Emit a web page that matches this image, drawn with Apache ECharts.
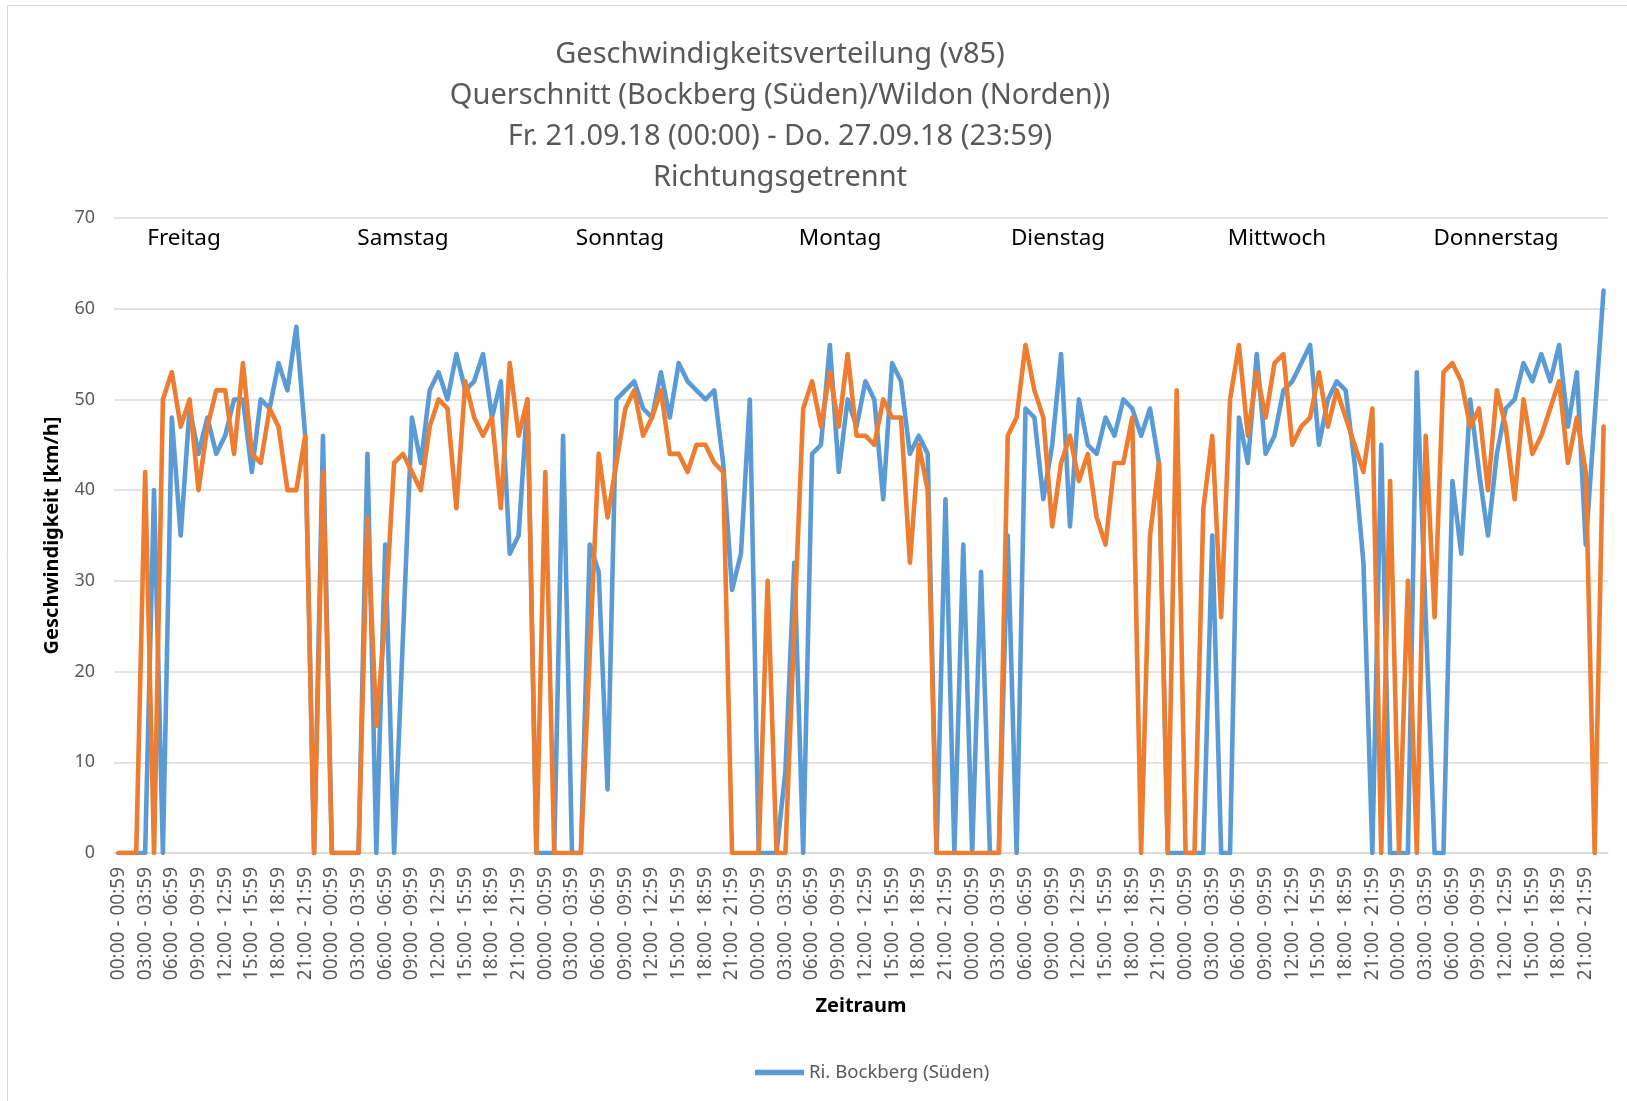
<!DOCTYPE html>
<html>
<head>
<meta charset="utf-8">
<script src="https://cdn.jsdelivr.net/npm/echarts@6/dist/echarts.min.js"></script>
<style>
html,body{margin:0;padding:0;background:#ffffff;}
#chart{width:1627px;height:1101px;}
</style>
</head>
<body>
<div id="chart"></div>
<script>
// ---- data ----
const titleLines = [
  'Geschwindigkeitsverteilung (v85)',
  'Querschnitt (Bockberg (Süden)/Wildon (Norden))',
  'Fr. 21.09.18 (00:00) - Do. 27.09.18 (23:59)',
  'Richtungsgetrennt'
];
const dayNames = ['Freitag', 'Samstag', 'Sonntag', 'Montag', 'Dienstag', 'Mittwoch', 'Donnerstag'];
const hourLabels = [
  '00:00 - 00:59','01:00 - 01:59','02:00 - 02:59','03:00 - 03:59','04:00 - 04:59','05:00 - 05:59',
  '06:00 - 06:59','07:00 - 07:59','08:00 - 08:59','09:00 - 09:59','10:00 - 10:59','11:00 - 11:59',
  '12:00 - 12:59','13:00 - 13:59','14:00 - 14:59','15:00 - 15:59','16:00 - 16:59','17:00 - 17:59',
  '18:00 - 18:59','19:00 - 19:59','20:00 - 20:59','21:00 - 21:59','22:00 - 22:59','23:00 - 23:59'
];
const seriesNames = ['Ri. Bockberg (Süden)', 'Ri. Wildon (Norden)'];
// Ri. Bockberg (Süden), hourly v85, Fri..Thu
const bockberg = [
  0,0,0,0,40,0,48,35,49,44,48,44,46,50,50,42,50,49,54,51,58,46,0,46,
  0,0,0,0,44,0,34,0,24,48,43,51,53,50,55,51,52,55,48,52,33,35,50,0,
  0,0,46,0,0,34,31,7,50,51,52,49,48,53,48,54,52,51,50,51,43,29,33,50,
  0,0,0,9,32,0,44,45,56,42,50,47,52,50,39,54,52,44,46,44,0,39,0,34,
  0,31,0,0,35,0,49,48,39,45,55,36,50,45,44,48,46,50,49,46,49,43,0,0,
  0,0,0,35,0,0,48,43,55,44,46,51,52,54,56,45,50,52,51,43,32,0,45,0,
  0,0,53,26,0,0,41,33,50,42,35,44,49,50,54,52,55,52,56,47,53,34,48,62
];
// Ri. Wildon (Norden), hourly v85, Fri..Thu
const wildon = [
  0,0,0,42,0,50,53,47,50,40,47,51,51,44,54,44,43,49,47,40,40,46,0,42,
  0,0,0,0,37,14,26,43,44,42,40,47,50,49,38,52,48,46,48,38,54,46,50,0,
  42,0,0,0,0,22,44,37,43,49,51,46,48,51,44,44,42,45,45,43,42,0,0,0,
  0,30,0,0,25,49,52,47,53,47,55,46,46,45,50,48,48,32,45,40,0,0,0,0,
  0,0,0,0,46,48,56,51,48,36,43,46,41,44,37,34,43,43,48,0,35,43,0,51,
  0,0,38,46,26,50,56,46,53,48,54,55,45,47,48,53,47,51,48,45,42,49,0,41,
  0,30,0,46,26,53,54,52,47,49,40,51,47,39,50,44,46,49,52,43,48,42,0,47
];
const yTicks = { min: 0, max: 70, step: 10 };

// ---- build ----
const categories = [];
dayNames.forEach(function () { hourLabels.forEach(function (h) { categories.push(h); }); });

const FONT = '"Noto Sans", "Liberation Sans", sans-serif';
const GRAY = '#595959';

const titleY = [55, 96, 137, 178];
const dayX = [184, 403, 620, 840, 1058, 1277, 1496];

const graphics = [];
graphics.push({
  type: 'rect', silent: true, z: -1,
  shape: { x: 7.5, y: 5.5, width: 1700, height: 1200 },
  style: { fill: 'none', stroke: '#D9D9D9', lineWidth: 1 }
});
titleLines.forEach(function (t, i) {
  graphics.push({
    type: 'text', x: 780, y: titleY[i], silent: true,
    style: { text: t, fill: GRAY, font: '29px ' + FONT, textAlign: 'center', textVerticalAlign: 'middle' }
  });
});
dayNames.forEach(function (d, i) {
  graphics.push({
    type: 'text', x: dayX[i], y: 239, silent: true, z: 10,
    style: { text: d, fill: '#000000', font: '22.5px ' + FONT, textAlign: 'center', textVerticalAlign: 'middle' }
  });
});

const chart = echarts.init(document.getElementById('chart'), null, { renderer: 'canvas' });
chart.setOption({
  animation: false,
  backgroundColor: '#ffffff',
  textStyle: { fontFamily: FONT },
  graphic: graphics,
  grid: { left: 114, right: 19, top: 218, bottom: 248, containLabel: false },
  legend: {
    data: [seriesNames[0]],
    left: 750, top: 1058,
    icon: 'rect', itemWidth: 49, itemHeight: 5.5, itemGap: 4,
    textStyle: { color: GRAY, fontSize: 18.6, fontFamily: FONT }
  },
  xAxis: {
    type: 'category',
    data: categories,
    boundaryGap: true,
    name: 'Zeitraum',
    nameLocation: 'middle',
    nameGap: 143,
    nameTextStyle: { color: '#000000', fontSize: 20, fontWeight: 'bold', fontFamily: FONT },
    axisLine: { show: true, lineStyle: { color: '#D9D9D9', width: 1.5 } },
    axisTick: { show: false },
    axisLabel: { interval: 2, rotate: 90, color: GRAY, fontSize: 19, margin: 14, fontFamily: FONT },
    splitLine: { show: false }
  },
  yAxis: {
    type: 'value',
    min: yTicks.min, max: yTicks.max, interval: yTicks.step,
    name: 'Geschwindigkeit [km/h]',
    nameLocation: 'middle',
    nameGap: 52,
    nameRotate: 90,
    nameTextStyle: { color: '#000000', fontSize: 20, fontWeight: 'bold', fontFamily: FONT },
    axisLine: { show: false },
    axisTick: { show: false },
    axisLabel: { color: GRAY, fontSize: 18, margin: 19, fontFamily: FONT },
    splitLine: { show: true, lineStyle: { color: '#D9D9D9', width: 1.5 } }
  },
  series: [
    {
      name: seriesNames[0], type: 'line', data: bockberg,
      showSymbol: false, symbol: 'none', smooth: false,
      color: '#5B9BD5',
      lineStyle: { color: '#5B9BD5', width: 4.6, join: 'round', cap: 'round' },
      z: 2
    },
    {
      name: seriesNames[1], type: 'line', data: wildon,
      showSymbol: false, symbol: 'none', smooth: false,
      color: '#ED7D31',
      lineStyle: { color: '#ED7D31', width: 4.6, join: 'round', cap: 'round' },
      z: 3
    }
  ]
});
</script>
</body>
</html>
